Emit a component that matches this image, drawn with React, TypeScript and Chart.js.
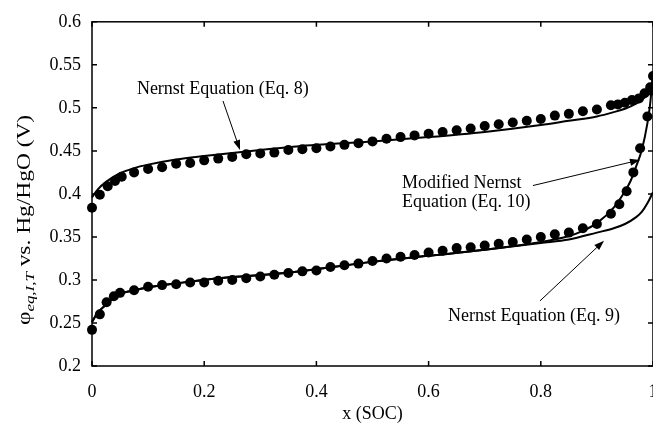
import React, { useEffect, useRef } from "react";
import { Chart, registerables } from "chart.js";

Chart.register(...registerables);

const FONT = '"Liberation Serif", "Times New Roman", serif';

// Axis ticks
const xTickValues = [0, 0.2, 0.4, 0.6, 0.8, 1];
const xTickLabels = ["0", "0.2", "0.4", "0.6", "0.8", "1"];
const yTickValues = [0.2, 0.25, 0.3, 0.35, 0.4, 0.45, 0.5, 0.55, 0.6];
const yTickLabels = ["0.2", "0.25", "0.3", "0.35", "0.4", "0.45", "0.5", "0.55", "0.6"];

// Measured equilibrium potential, upper branch
const upperSoc = [
  0, 0.014, 0.028, 0.041, 0.053, 0.075, 0.1, 0.125, 0.15, 0.175, 0.2, 0.225, 0.25, 0.275,
  0.3, 0.325, 0.35, 0.375, 0.4, 0.425, 0.45, 0.475, 0.5, 0.525, 0.55, 0.575, 0.6, 0.625,
  0.65, 0.675, 0.7, 0.725, 0.75, 0.775, 0.8, 0.825, 0.85, 0.875, 0.9, 0.925, 0.9375, 0.95,
  0.9625, 0.975, 0.985, 0.995, 1.0,
];
const upperPotential = [
  0.384, 0.399, 0.409, 0.415, 0.42, 0.425, 0.429, 0.431, 0.435, 0.436, 0.439, 0.441, 0.443,
  0.446, 0.447, 0.448, 0.451, 0.452, 0.453, 0.455, 0.457, 0.459, 0.461, 0.464, 0.466, 0.468,
  0.47, 0.472, 0.474, 0.476, 0.479, 0.481, 0.483, 0.485, 0.487, 0.491, 0.493, 0.496, 0.498,
  0.503, 0.504, 0.506, 0.509, 0.511, 0.517, 0.524, 0.537,
];

// Measured equilibrium potential, lower branch
const lowerSoc = [
  0, 0.014, 0.026, 0.039, 0.05, 0.075, 0.1, 0.125, 0.15, 0.175, 0.2, 0.225, 0.25, 0.275,
  0.3, 0.325, 0.35, 0.375, 0.4, 0.425, 0.45, 0.475, 0.5, 0.525, 0.55, 0.575, 0.6, 0.625,
  0.65, 0.675, 0.7, 0.725, 0.75, 0.775, 0.8, 0.825, 0.85, 0.875, 0.9, 0.925, 0.94, 0.953,
  0.965, 0.977, 0.99, 0.997,
];
const lowerPotential = [
  0.242, 0.26, 0.274, 0.281, 0.285, 0.288, 0.292, 0.294, 0.295, 0.297, 0.297, 0.299, 0.3,
  0.302, 0.304, 0.306, 0.308, 0.31, 0.311, 0.315, 0.317, 0.319, 0.322, 0.325, 0.327, 0.329,
  0.332, 0.334, 0.337, 0.338, 0.34, 0.342, 0.344, 0.347, 0.35, 0.353, 0.355, 0.36, 0.365,
  0.377, 0.388, 0.403, 0.425, 0.453, 0.49, 0.52,
];

// Nernst equation (Eq. 8)
const eq8Soc = [
  0, 0.01, 0.025, 0.05, 0.075, 0.1, 0.15, 0.2, 0.3, 0.4, 0.5, 0.6, 0.7, 0.8, 0.85, 0.9,
  0.93, 0.95, 0.97, 0.98, 0.99, 0.995, 1.0,
];
const eq8Potential = [
  0.396, 0.405, 0.414, 0.424, 0.43, 0.434, 0.44, 0.444, 0.451, 0.457, 0.461, 0.466, 0.472,
  0.48, 0.485, 0.49, 0.495, 0.499, 0.505, 0.509, 0.516, 0.522, 0.534,
];

// Nernst equation (Eq. 9)
const eq9Soc = [
  0, 0.01, 0.023, 0.047, 0.075, 0.106, 0.15, 0.225, 0.344, 0.5, 0.6, 0.7, 0.8, 0.85, 0.9,
  0.93, 0.95, 0.97, 0.98, 0.99, 1.0,
];
const eq9Potential = [
  0.251, 0.262, 0.27, 0.283, 0.288, 0.292, 0.296, 0.302, 0.308, 0.321, 0.328, 0.335, 0.343,
  0.347, 0.355, 0.36, 0.365, 0.373, 0.379, 0.389, 0.402,
];

// Modified Nernst equation (Eq. 10)
const eq10Soc = [
  0, 0.01, 0.023, 0.047, 0.075, 0.106, 0.15, 0.225, 0.344, 0.5, 0.6, 0.7, 0.8, 0.85, 0.875,
  0.9, 0.93, 0.95, 0.96, 0.97, 0.98, 0.99, 0.995, 1.0,
];
const eq10Potential = [
  0.251, 0.262, 0.27, 0.283, 0.288, 0.292, 0.296, 0.302, 0.308, 0.321, 0.328, 0.335, 0.344,
  0.351, 0.357, 0.366, 0.384, 0.403, 0.415, 0.432, 0.451, 0.482, 0.505, 0.54,
];

// Callout labels with arrows (data units)
const callouts = [
  { lines: ["Nernst Equation (Eq. 8)"], x: 0.08, y: 0.522, from: [0.2335, 0.508], to: [0.2638, 0.451] },
  { lines: ["Modified Nernst", "Equation (Eq. 10)"], x: 0.5526, y: 0.412, from: [0.786, 0.4097], to: [0.9768, 0.4395] },
  { lines: ["Nernst Equation (Eq. 9)"], x: 0.6346, y: 0.2573, from: [0.7986, 0.2757], to: [0.9127, 0.3456] },
];

const toPoints = (xs: number[], ys: number[]) => xs.map((x, i) => ({ x, y: ys[i] }));

const framePlugin = {
  id: "frameAndText",
  afterDraw(chart: any) {
    const { ctx, chartArea, scales } = chart;
    const xs = scales.x;
    const ys = scales.y;
    const { left, right, top, bottom } = chartArea;
    ctx.save();
    ctx.strokeStyle = "#000";
    ctx.fillStyle = "#000";
    ctx.lineWidth = 1.5;
    ctx.strokeRect(left, top, right - left, bottom - top);
    const tl = 5;
    ctx.beginPath();
    xTickValues.forEach((v) => {
      const px = xs.getPixelForValue(v);
      ctx.moveTo(px, bottom);
      ctx.lineTo(px, bottom - tl);
      ctx.moveTo(px, top);
      ctx.lineTo(px, top + tl);
    });
    yTickValues.forEach((v) => {
      const py = ys.getPixelForValue(v);
      ctx.moveTo(left, py);
      ctx.lineTo(left + tl, py);
      ctx.moveTo(right, py);
      ctx.lineTo(right - tl, py);
    });
    ctx.stroke();

    // x axis title
    ctx.font = `18px ${FONT}`;
    ctx.textAlign = "center";
    ctx.textBaseline = "middle";
    ctx.fillText("x (SOC)", (left + right) / 2, 414);

    // y axis title, rotated
    ctx.save();
    ctx.translate(30, 220);
    ctx.rotate(-Math.PI / 2);
    ctx.scale(1.3, 1);
    ctx.textAlign = "left";
    ctx.textBaseline = "alphabetic";
    const mainFont = `18px ${FONT}`;
    const subFont = `italic 13px ${FONT}`;
    ctx.font = mainFont;
    const wPhi = ctx.measureText("\u03c6").width;
    const rest = " vs. Hg/HgO (V)";
    const wRest = ctx.measureText(rest).width;
    ctx.font = subFont;
    const sub = "eq,I,T";
    const wSub = ctx.measureText(sub).width;
    const total = wPhi + wSub + wRest;
    let cx = -total / 2;
    ctx.font = mainFont;
    ctx.fillText("\u03c6", cx, 0);
    cx += wPhi;
    ctx.font = subFont;
    ctx.fillText(sub, cx, 4);
    cx += wSub;
    ctx.font = mainFont;
    ctx.fillText(rest, cx, 0);
    ctx.restore();

    // callouts
    ctx.font = `18px ${FONT}`;
    ctx.textAlign = "left";
    ctx.textBaseline = "middle";
    ctx.lineWidth = 1;
    callouts.forEach((c) => {
      const tx = xs.getPixelForValue(c.x);
      const ty = ys.getPixelForValue(c.y);
      c.lines.forEach((ln, i) => ctx.fillText(ln, tx, ty + i * 19));
      const x1 = xs.getPixelForValue(c.from[0]);
      const y1 = ys.getPixelForValue(c.from[1]);
      const x2 = xs.getPixelForValue(c.to[0]);
      const y2 = ys.getPixelForValue(c.to[1]);
      const ang = Math.atan2(y2 - y1, x2 - x1);
      const hl = 10;
      const hw = 3.5;
      ctx.beginPath();
      ctx.moveTo(x1, y1);
      ctx.lineTo(x2 - Math.cos(ang) * hl * 0.8, y2 - Math.sin(ang) * hl * 0.8);
      ctx.stroke();
      ctx.beginPath();
      ctx.moveTo(x2, y2);
      ctx.lineTo(x2 - Math.cos(ang) * hl - Math.sin(ang) * hw, y2 - Math.sin(ang) * hl + Math.cos(ang) * hw);
      ctx.lineTo(x2 - Math.cos(ang) * hl + Math.sin(ang) * hw, y2 - Math.sin(ang) * hl - Math.cos(ang) * hw);
      ctx.closePath();
      ctx.fill();
    });
    ctx.restore();
  },
};

export default function App() {
  const ref = useRef<HTMLCanvasElement | null>(null);

  useEffect(() => {
    if (!ref.current) return;
    const lineStyle = {
      showLine: true,
      pointRadius: 0,
      borderColor: "#000",
      borderWidth: 2,
      cubicInterpolationMode: "monotone" as const,
      fill: false,
      clip: false as const,
    };
    const dotStyle = {
      showLine: false,
      pointRadius: 5,
      pointBackgroundColor: "#000",
      pointBorderWidth: 0,
      backgroundColor: "#000",
      clip: false as const,
    };
    const chart = new Chart(ref.current, {
      type: "scatter",
      data: {
        datasets: [
          { label: "Nernst Equation (Eq. 8)", data: toPoints(eq8Soc, eq8Potential), ...lineStyle },
          { label: "Nernst Equation (Eq. 9)", data: toPoints(eq9Soc, eq9Potential), ...lineStyle },
          { label: "Modified Nernst Equation (Eq. 10)", data: toPoints(eq10Soc, eq10Potential), ...lineStyle },
          { label: "Upper branch", data: toPoints(upperSoc, upperPotential), ...dotStyle },
          { label: "Lower branch", data: toPoints(lowerSoc, lowerPotential), ...dotStyle },
        ],
      },
      options: {
        animation: false,
        responsive: false,
        devicePixelRatio: 1,
        layout: { padding: { left: 0, top: 17, right: 27, bottom: 0 } },
        plugins: { legend: { display: false }, tooltip: { enabled: false } },
        scales: {
          x: {
            type: "linear",
            min: 0,
            max: 1,
            grid: { display: false, drawTicks: false },
            border: { display: false },
            afterBuildTicks: (s: any) => {
              s.ticks = xTickValues.map((v) => ({ value: v }));
            },
            afterFit: (s: any) => {
              s.height = 64;
            },
            ticks: {
              padding: 15,
              color: "#000",
              font: { family: FONT, size: 18 },
              maxRotation: 0,
              callback: (v: any) => xTickLabels[xTickValues.indexOf(Number(v))] ?? "",
            },
          },
          y: {
            type: "linear",
            min: 0.2,
            max: 0.6,
            grid: { display: false, drawTicks: false },
            border: { display: false },
            afterBuildTicks: (s: any) => {
              s.ticks = yTickValues.map((v) => ({ value: v }));
            },
            afterFit: (s: any) => {
              s.width = 92;
            },
            ticks: {
              padding: 11,
              color: "#000",
              font: { family: FONT, size: 18 },
              callback: (v: any) => {
                const i = yTickValues.findIndex((t) => Math.abs(t - Number(v)) < 1e-9);
                return i >= 0 ? yTickLabels[i] : "";
              },
            },
          },
        },
      },
      plugins: [framePlugin],
    });
    return () => chart.destroy();
  }, []);

  return (
    <div style={{ position: "fixed", left: 0, top: 0, width: 653, height: 430, overflow: "hidden", background: "#fff" }}>
      <canvas ref={ref} width={680} height={430} style={{ width: 680, height: 430, display: "block" }} />
    </div>
  );
}
